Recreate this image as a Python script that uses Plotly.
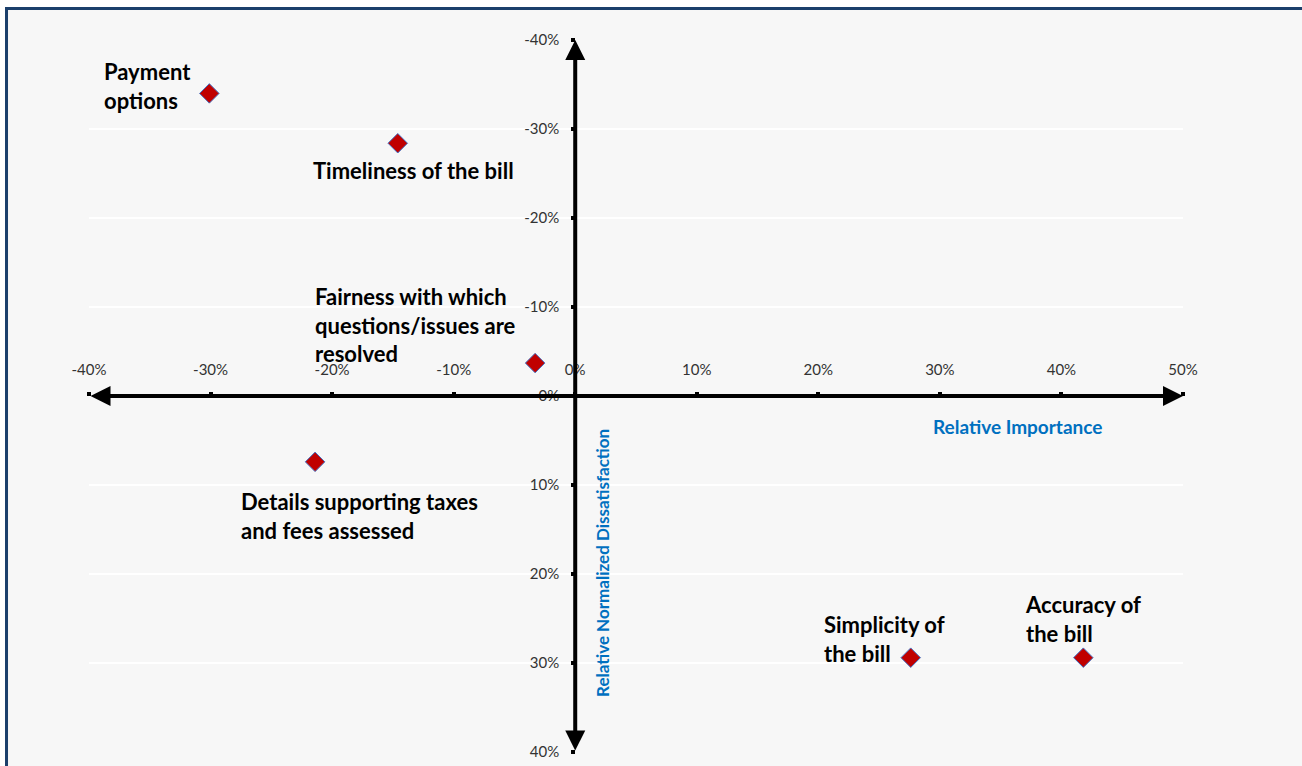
import plotly.graph_objects as go

# Bill attributes: relative importance (x, %) vs relative normalized dissatisfaction (y, %)
attributes = [
    "Payment options",
    "Timeliness of the bill",
    "Fairness with which questions/issues are resolved",
    "Details supporting taxes and fees assessed",
    "Simplicity of the bill",
    "Accuracy of the bill",
]
label_text = [
    "Payment<br>options",
    "Timeliness of the bill",
    "Fairness with which<br>questions/issues are<br>resolved",
    "Details supporting taxes<br>and fees assessed",
    "Simplicity of<br>the bill",
    "Accuracy of<br>the bill",
]
importance = [-30.1, -14.6, -3.3, -21.4, 27.6, 41.8]
dissatisfaction = [-34.0, -28.4, -3.7, 7.4, 29.4, 29.4]

x_ticks = [-40, -30, -20, -10, 0, 10, 20, 30, 40, 50]
x_tick_text = ["-40%", "-30%", "-20%", "-10%", "0%", "10%", "20%", "30%", "40%", "50%"]
y_ticks = [-40, -30, -20, -10, 0, 10, 20, 30, 40]
y_tick_text = ["-40%", "-30%", "-20%", "-10%", "0%", "10%", "20%", "30%", "40%"]

X_RANGE = [-40, 50]
Y_RANGE = [40, -40]  # reversed: negative dissatisfaction at the top

# label placement relative to each marker (pixels): anchor, xshift, yshift
label_style = [
    ("right", -16, 7),
    ("center", 16, -27),
    ("right", -17, 38),
    ("left", -76, -54),
    ("left", -89, 19),
    ("left", -60, 39),
]

FONT = "Lato, Carlito, Calibri, sans-serif"
BLUE = "#0070C0"

fig = go.Figure()
fig.add_trace(
    go.Scatter(
        x=importance,
        y=dissatisfaction,
        mode="markers",
        text=attributes,
        marker=dict(symbol="diamond", size=15, color="#C00000",
                    line=dict(color="#4472C4", width=1)),
        hoverinfo="text",
        showlegend=False,
    )
)

annotations = []
# axis lines with arrowheads at both ends
annotations.append(dict(x=X_RANGE[1], y=0, ax=X_RANGE[0], ay=0, xref="x", yref="y",
                        axref="x", ayref="y", text="", showarrow=True,
                        arrowside="end+start", arrowhead=2, arrowsize=1,
                        arrowwidth=4, arrowcolor="black"))
annotations.append(dict(x=0, y=Y_RANGE[1], ax=0, ay=Y_RANGE[0], xref="x", yref="y",
                        axref="x", ayref="y", text="", showarrow=True,
                        arrowside="end+start", arrowhead=2, arrowsize=1,
                        arrowwidth=4, arrowcolor="black"))

for xv, yv, txt, (anchor, dx, dy) in zip(importance, dissatisfaction, label_text, label_style):
    annotations.append(dict(x=xv, y=yv, xref="x", yref="y", text=txt, showarrow=False,
                            xanchor=anchor, yanchor="middle", align="left",
                            xshift=dx, yshift=dy,
                            font=dict(family=FONT, size=22, color="black", weight="bold")))

# axis titles
annotations.append(dict(x=0.8483, y=0.4565, xref="paper", yref="paper",
                        text="<b>Relative Importance</b>", showarrow=False,
                        xanchor="center", yanchor="middle",
                        font=dict(family=FONT, size=19, color=BLUE)))
annotations.append(dict(x=0.4698, y=0.2655, xref="paper", yref="paper",
                        text="<b>Relative Normalized Dissatisfaction</b>", showarrow=False,
                        textangle=-90, xanchor="center", yanchor="middle",
                        font=dict(family=FONT, size=17, color=BLUE)))

shapes = [
    # framed chart area
    dict(type="rect", xref="paper", yref="paper", x0=-0.0754, y0=-0.05, x1=1.13, y1=1.0442,
         line=dict(color="#1B3F6B", width=3), fillcolor="#F7F7F7", layer="below"),
]

fig.update_layout(
    width=1302,
    height=766,
    margin=dict(l=89, r=119, t=40, b=14),
    paper_bgcolor="white",
    plot_bgcolor="rgba(0,0,0,0)",
    annotations=annotations,
    shapes=shapes,
    xaxis=dict(range=X_RANGE, anchor="free", position=0.5, side="top", automargin=False,
               tickvals=x_ticks, ticktext=x_tick_text, ticks="outside", ticklen=4,
               tickwidth=4, tickcolor="black", ticklabelstandoff=11,
               showgrid=False, zeroline=False, showline=False,
               tickfont=dict(family=FONT, size=15, color="#333333")),
    yaxis=dict(range=Y_RANGE, anchor="free", position=40 / 90, side="left", automargin=False,
               tickvals=y_ticks, ticktext=y_tick_text, ticks="outside", ticklen=4,
               tickwidth=4, tickcolor="black", ticklabelstandoff=9,
               showgrid=True, gridcolor="white", gridwidth=1.5,
               zeroline=False, showline=False,
               tickfont=dict(family=FONT, size=15, color="#333333")),
)

fig.write_html("out.html")
